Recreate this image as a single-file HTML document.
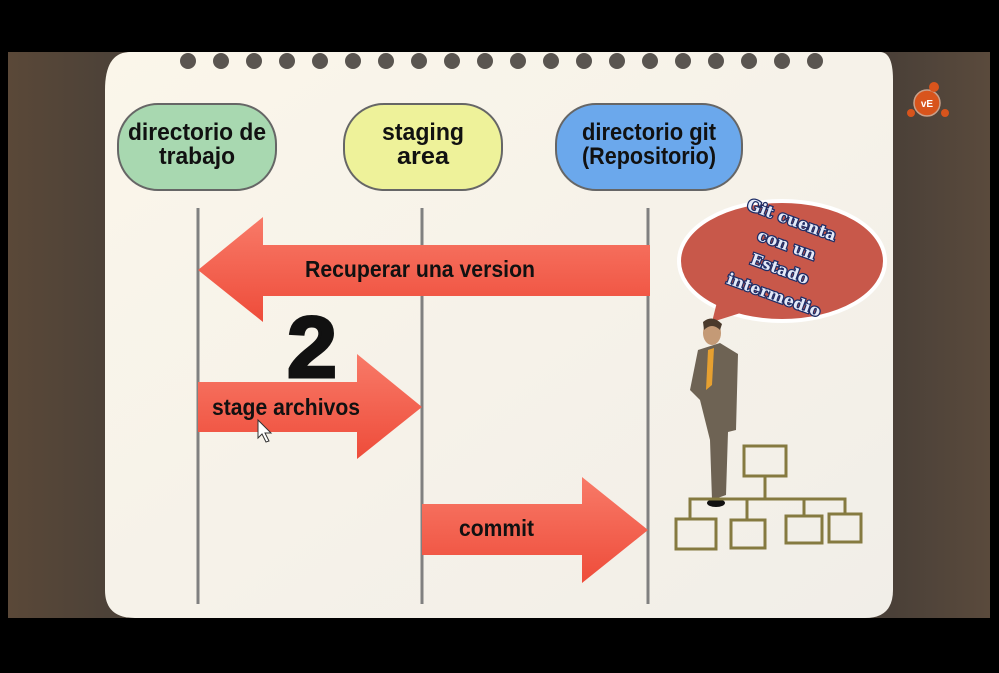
<!DOCTYPE html>
<html><head><meta charset="utf-8"><style>
body{margin:0;width:999px;height:668px;overflow:hidden;background:#000;}
</style></head><body>
<svg width="999" height="668" viewBox="0 0 999 668" xmlns="http://www.w3.org/2000/svg" font-family="Liberation Sans, sans-serif">
<defs>
<linearGradient id="bg" x1="0" x2="1" y1="0" y2="0">
<stop offset="0" stop-color="#5a4838"/><stop offset="0.1" stop-color="#4d4238"/><stop offset="0.9" stop-color="#4a4038"/><stop offset="1" stop-color="#5a4a3c"/>
</linearGradient>
<linearGradient id="paper" x1="0" x2="1" y1="0" y2="1">
<stop offset="0" stop-color="#fbf6ea"/><stop offset="1" stop-color="#f1eee8"/>
</linearGradient>
<linearGradient id="ar" x1="0" x2="0" y1="0" y2="1">
<stop offset="0" stop-color="#f87a68"/><stop offset="1" stop-color="#ee4c3a"/>
</linearGradient>
</defs>
<rect x="0" y="0" width="999" height="668" fill="#000"/>
<rect x="8" y="52" width="982" height="566" fill="url(#bg)"/>
<path d="M130 52 H880 Q893 52 893 80 V590 Q893 618 865 618 H135 Q105 618 105 590 V90 Q105 52 130 52Z" fill="url(#paper)"/>
<g fill="#5a5550">
<circle cx="188" cy="61" r="8"/><circle cx="221" cy="61" r="8"/><circle cx="254" cy="61" r="8"/><circle cx="287" cy="61" r="8"/><circle cx="320" cy="61" r="8"/><circle cx="353" cy="61" r="8"/><circle cx="386" cy="61" r="8"/><circle cx="419" cy="61" r="8"/><circle cx="452" cy="61" r="8"/><circle cx="485" cy="61" r="8"/><circle cx="518" cy="61" r="8"/><circle cx="551" cy="61" r="8"/><circle cx="584" cy="61" r="8"/><circle cx="617" cy="61" r="8"/><circle cx="650" cy="61" r="8"/><circle cx="683" cy="61" r="8"/><circle cx="716" cy="61" r="8"/><circle cx="749" cy="61" r="8"/><circle cx="782" cy="61" r="8"/><circle cx="815" cy="61" r="8"/>
</g>
<rect x="118" y="104" width="158" height="86" rx="40" fill="#a8d8b0" stroke="#666" stroke-width="2"/>
<rect x="344" y="104" width="158" height="86" rx="40" fill="#eef29a" stroke="#666" stroke-width="2"/>
<rect x="556" y="104" width="186" height="86" rx="40" fill="#6ba8ec" stroke="#666" stroke-width="2"/>
<g font-weight="bold" font-size="24" text-anchor="middle" fill="#111">
<text x="197" y="140" textLength="138" lengthAdjust="spacingAndGlyphs">directorio de</text>
<text x="197" y="164" textLength="76" lengthAdjust="spacingAndGlyphs">trabajo</text>
<text x="423" y="140" textLength="82" lengthAdjust="spacingAndGlyphs">staging</text>
<text x="423" y="164" textLength="52" lengthAdjust="spacingAndGlyphs">area</text>
<text x="649" y="140" textLength="134" lengthAdjust="spacingAndGlyphs">directorio git</text>
<text x="649" y="164" textLength="134" lengthAdjust="spacingAndGlyphs">(Repositorio)</text>
</g>
<g stroke="#808080" stroke-width="3">
<line x1="198" y1="208" x2="198" y2="604"/><line x1="422" y1="208" x2="422" y2="604"/><line x1="648" y1="208" x2="648" y2="604"/>
</g>
<path d="M650 245 H263 V217 L198 270 L263 322 V296 H650Z" fill="url(#ar)"/>
<path d="M198 382 H357 V354 L422 407 L357 459 V432 H198Z" fill="url(#ar)"/>
<path d="M422 504 H582 V477 L648 530 L582 583 V555 H422Z" fill="url(#ar)"/>
<g font-weight="bold" font-size="23" fill="#111">
<text x="305" y="277" textLength="230" lengthAdjust="spacingAndGlyphs">Recuperar una version</text>
<text x="212" y="415" textLength="148" lengthAdjust="spacingAndGlyphs">stage archivos</text>
<text x="459" y="536" textLength="75" lengthAdjust="spacingAndGlyphs">commit</text>
</g>
<text x="287" y="377" font-size="86" font-weight="bold" fill="#111" stroke="#111" stroke-width="3" textLength="50" lengthAdjust="spacingAndGlyphs">2</text>
<path d="M258 420 L258 438 L262 434 L266 442 L269 441 L265 433 L271 433Z" fill="#fff" stroke="#333" stroke-width="1"/>
<ellipse cx="782" cy="261" rx="103" ry="60" fill="#c8584a" stroke="#fff" stroke-width="4"/>
<path d="M720 290 L712 322 L750 310Z" fill="#c8584a"/>
<g font-family="DejaVu Serif, serif" font-weight="bold" font-size="16" fill="#e4e9f8" stroke="#1e2d66" stroke-width="2.5" paint-order="stroke" text-anchor="middle">
<text x="790" y="225" transform="rotate(20 790 225)">Git cuenta</text>
<text x="785" y="250" transform="rotate(20 785 250)">con un</text>
<text x="778" y="274" transform="rotate(20 778 274)">Estado</text>
<text x="772" y="300" transform="rotate(20 772 300)">intermedio</text>
</g>
<ellipse cx="712" cy="333" rx="9" ry="12" fill="#c49a76"/>
<path d="M703 322 Q712 314 722 324 L720 330 Q712 322 704 330Z" fill="#4a3a2c"/>
<path d="M698 350 L720 343 L738 354 L736 430 L728 432 L726 495 L712 500 L710 440 L705 420 L700 400 L690 390Z" fill="#6e6354"/>
<path d="M708 350 L714 348 L712 385 L706 390Z" fill="#e6a030"/>
<ellipse cx="716" cy="503" rx="9" ry="4" fill="#111"/>
<g fill="none" stroke="#857a40" stroke-width="3">
<rect x="744" y="446" width="42" height="30"/><rect x="676" y="519" width="40" height="30"/><rect x="731" y="520" width="34" height="28"/><rect x="786" y="516" width="36" height="27"/><rect x="829" y="514" width="32" height="28"/>
<path d="M765 476 V498 M690 519 V499 H845 V514 M747 520 V499 M804 516 V499"/>
</g>
<circle cx="927" cy="103" r="13" fill="#d8541c" stroke="#c9a08a" stroke-width="1.5"/>
<circle cx="934" cy="87" r="5" fill="#d8541c"/><circle cx="911" cy="113" r="4" fill="#d8541c"/><circle cx="945" cy="113" r="4" fill="#d8541c"/>
<text x="927" y="107" font-size="10" font-weight="bold" fill="#fff" text-anchor="middle">vE</text>
</svg>
</body></html>
